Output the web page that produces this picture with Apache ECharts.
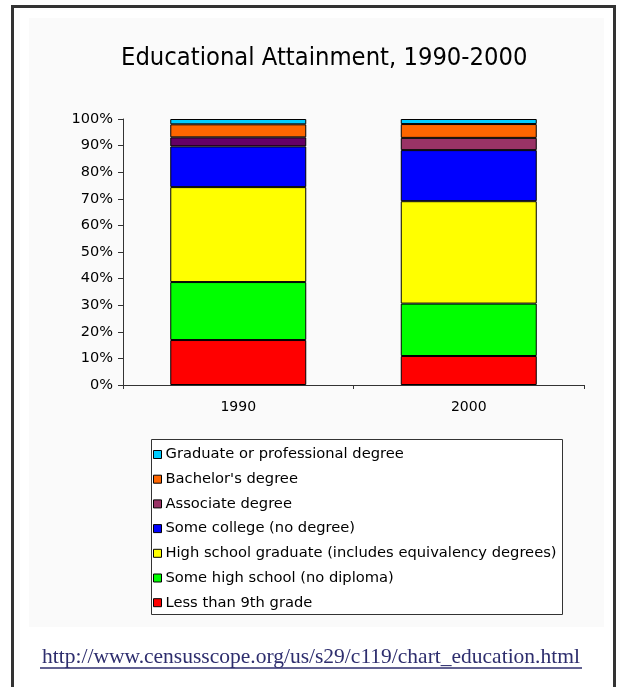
<!DOCTYPE html>
<html>
<head>
<meta charset="utf-8">
<script src="https://cdn.jsdelivr.net/npm/echarts@6/dist/echarts.min.js"></script>
<style>
  html, body { margin: 0; padding: 0; background: #ffffff; }
  #chart { width: 618px; height: 687px; }
</style>
</head>
<body>
<div id="chart"></div>
<script>
// Census years shown on the category axis
const years = ['1990', '2000'];

// Share of the population (%) by highest level of education, per year
const lessThan9th      = [16.9, 10.9];
const someHighSchool   = [21.8, 19.7];
const highSchoolGrad   = [35.7, 38.5];
const someCollege      = [15.3, 19.2];
const associateDegree  = [3.4, 4.6];
const bachelorsDegree  = [4.9, 5.2];
const graduateDegree   = [2.0, 1.9];

// Value-axis tick labels
const percentTicks = ['0%', '10%', '20%', '30%', '40%', '50%', '60%', '70%', '80%', '90%', '100%'];

const seriesNames = [
  'Less than 9th grade',
  'Some high school (no diploma)',
  'High school graduate (includes equivalency degrees)',
  'Some college (no degree)',
  'Associate degree',
  "Bachelor's degree",
  'Graduate or professional degree'
];
const seriesValues = [lessThan9th, someHighSchool, highSchoolGrad, someCollege,
                      associateDegree, bachelorsDegree, graduateDegree];
const seriesColors = ['#ff0000', '#00ff00', '#ffff00', '#0000ff', '#993366', '#ff6600', '#00ccff'];
// the 1990 associate-degree block is drawn in a darker purple
const itemOverrides = { 4: { 0: '#660066' } };

const chart = echarts.init(document.getElementById('chart'), null, { renderer: 'canvas' });

const series = seriesNames.map((name, i) => ({
  name: name,
  type: 'bar',
  stack: 'total',
  barWidth: 136,
  itemStyle: { color: seriesColors[i], borderColor: '#000000', borderWidth: 1 },
  emphasis: { disabled: true },
  data: seriesValues[i].map((v, j) => {
    const c = itemOverrides[i] && itemOverrides[i][j];
    return c ? { value: v, itemStyle: { color: c } } : v;
  })
}));

const labelFont = 'DejaVu Sans, Verdana, sans-serif';

chart.setOption({
  backgroundColor: '#ffffff',
  animation: false,
  title: {
    text: 'Educational Attainment, 1990-2000',
    left: 116,
    top: 41,
    textStyle: { fontFamily: 'DejaVu Sans Condensed, Tahoma, sans-serif', fontSize: 25.3, fontWeight: 'normal', color: '#000000' }
  },
  grid: { left: 123, right: 34, top: 119, bottom: 302, containLabel: false },
  xAxis: {
    type: 'category',
    data: years,
    axisLine: { lineStyle: { color: '#333333', width: 1 } },
    axisTick: { show: true, length: 4, alignWithLabel: false, lineStyle: { color: '#333333' } },
    axisLabel: { color: '#000000', fontFamily: labelFont, fontSize: 14, margin: 15 }
  },
  yAxis: {
    type: 'value',
    min: 0,
    max: 100,
    interval: 10,
    axisLine: { show: true, lineStyle: { color: '#333333', width: 1 } },
    axisTick: { show: true, length: 5, lineStyle: { color: '#333333' } },
    splitLine: { show: false },
    axisLabel: {
      color: '#000000', fontFamily: labelFont, fontSize: 14.5, margin: 10,
      formatter: (v) => percentTicks[Math.round(v / 10)]
    }
  },
  legend: {
    orient: 'vertical',
    left: 153,
    top: 447,
    padding: 0,
    itemGap: 9.7,
    itemWidth: 8,
    itemHeight: 8,
    icon: 'rect',
    itemStyle: { borderColor: '#000000', borderWidth: 1 },
    selectedMode: false,
    textStyle: { fontFamily: labelFont, fontSize: 14.7, color: '#000000', padding: [0, 0, 0, -1], lineHeight: 14 },
    data: seriesNames.slice().reverse()
  },
  graphic: [
    // page frame
    { type: 'rect', z: -10, silent: true, shape: { x: 12.5, y: 6.5, width: 602, height: 700 },
      style: { fill: '#ffffff', stroke: '#333333', lineWidth: 3 } },
    // chart panel
    { type: 'rect', z: -9, silent: true, shape: { x: 29, y: 18, width: 575, height: 609 },
      style: { fill: '#fafafa' } },
    // legend box
    { type: 'rect', z: -8, silent: true, shape: { x: 151.5, y: 439.5, width: 411, height: 175 },
      style: { fill: '#ffffff', stroke: '#333333', lineWidth: 1 } },
    // source link
    { type: 'text', silent: true, x: 311, y: 657,
      style: { text: 'http://www.censusscope.org/us/s29/c119/chart_education.html',
               fill: '#2e2e6e', font: '21.5px "Liberation Serif", "Times New Roman", serif',
               align: 'center', verticalAlign: 'middle' } },
    { type: 'line', silent: true, shape: { x1: 40, y1: 668, x2: 582, y2: 668 },
      style: { stroke: '#2e2e6e', lineWidth: 1.5 } }
  ],
  series: series
});
</script>
</body>
</html>
